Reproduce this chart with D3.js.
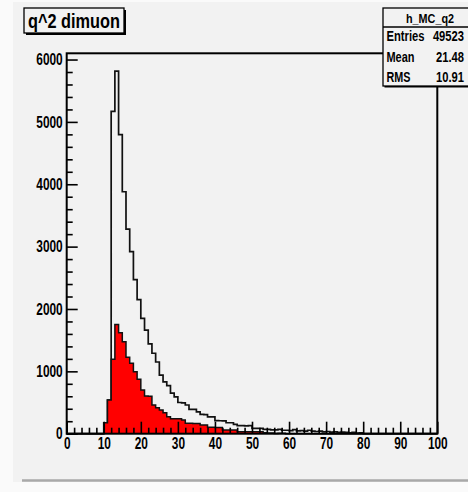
<!DOCTYPE html>
<html><head><meta charset="utf-8">
<script src="https://cdn.jsdelivr.net/npm/d3@7"></script>
<style>
html,body{margin:0;padding:0;background:#fafafa;}
svg{display:block;}
text{font-family:"Liberation Sans",Arial,Helvetica,sans-serif;font-weight:bold;fill:#000;}
</style></head>
<body>
<svg id="c" width="468" height="492"></svg>
<script>
// ---- data (bin lower edges 0..99, width 1) ----
const binEdges = [0,1,2,3,4,5,6,7,8,9,10,11,12,13,14,15,16,17,18,19,20,21,22,23,24,25,26,27,28,29,30,31,32,33,34,35,36,37,38,39,40,41,42,43,44,45,46,47,48,49,50,51,52,53,54,55,56,57,58,59,60,61,62,63,64,65,66,67,68,69,70,71,72,73,74,75,76,77,78,79,80,81,82,83,84,85,86,87,88,89,90,91,92,93,94,95,96,97,98,99];
const totalCounts = [0,0,0,0,0,0,0,0,0,0,
  176,540,5170,5815,4795,3880,3280,2920,2470,2150,
  1850,1660,1440,1290,1150,940,830,770,650,590,
  500,495,460,390,390,350,310,305,270,270,
  210,208,205,176,176,150,128,128,125,128,
  87,87,85,70,70,60,60,70,55,55,
  50,65,45,50,40,55,40,35,40,30,
  35,25,30,20,25,20,15,20,10,15,
  0,0,0,0,0,0,0,0,0,0,
  0,0,0,0,0,0,0,0,0,0];
const redCounts = [0,0,0,0,0,0,0,0,0,0,
  176,540,1192,1753,1619,1474,1224,1128,994,872,
  700,604,600,460,417,380,337,272,240,240,
  238,220,167,167,165,165,140,140,103,103,
  100,100,59,59,59,58,32,32,32,30,
  30,30,30,15,12,10,4,8,6,0,
  0,0,0,0,0,0,0,0,0,0,
  0,0,0,0,0,0,0,0,0,0,
  0,0,0,0,0,0,0,0,0,0,
  0,0,0,0,0,0,0,0,0,0];
const xMajorTicks = [0,10,20,30,40,50,60,70,80,90,100];
const yMajorTicks = [0,1000,2000,3000,4000,5000,6000];
const titleText = "q^2 dimuon";
const statsName = "h_MC_q2";
const statsLabels = ["Entries","Mean","RMS"];
const statsValues = ["49523","21.48","10.91"];

const svg = d3.select("#c");
const BG = "#f2f2f2";

// canvas / pad
svg.append("rect").attr("x",13).attr("y",2).attr("width",455).attr("height",480).attr("fill",BG);
svg.append("line").attr("x1",22).attr("x2",468).attr("y1",480.5).attr("y2",480.5)
  .attr("stroke","#a9a9a9").attr("stroke-width",2.5);

const L=66.7, R=437.3, T=53.3, B=433.7;
const x = d3.scaleLinear().domain([0,100]).range([L,R]);
const y = d3.scaleLinear().domain([0,6100]).range([B,T]);

const bins = binEdges.map((e,i)=>({x0:e,x1:e+1,t:totalCounts[i],r:redCounts[i]}));
function stepPts(key){
  const pts=[];
  bins.forEach(b=>{pts.push([b.x0,b[key]]);pts.push([b.x1,b[key]]);});
  return pts;
}
const line = d3.line().x(d=>x(d[0])).y(d=>y(d[1]));
const area = d3.area().x(d=>x(d[0])).y0(y(0)).y1(d=>y(d[1]));

// total histogram outline
svg.append("path").attr("d",line(stepPts("t"))).attr("fill","none")
  .attr("stroke","#111").attr("stroke-width",1.7).attr("stroke-linejoin","miter");
// red histogram
svg.append("path").attr("d",area(stepPts("r"))).attr("fill","#ff0000").attr("stroke","none");
svg.append("path").attr("d",line(stepPts("r"))).attr("fill","none")
  .attr("stroke","#111").attr("stroke-width",1.5);

// axes
const yMinor = d3.range(0,6001,200).filter(v=>v%1000!==0);
const xMinor = d3.range(0,101,2).filter(v=>v%10!==0);

const gy = svg.append("g").attr("transform",`translate(${L},0)`);
gy.call(d3.axisLeft(y).tickValues(yMajorTicks).tickSize(-11).tickPadding(4).tickFormat(d3.format("d")));
const gym = svg.append("g").attr("transform",`translate(${L},0)`);
gym.call(d3.axisLeft(y).tickValues(yMinor).tickSize(-6).tickFormat(""));

const gx = svg.append("g").attr("transform",`translate(0,${B})`);
gx.call(d3.axisBottom(x).tickValues(xMajorTicks).tickSize(-12).tickPadding(4).tickFormat(d3.format("d")));
const gxm = svg.append("g").attr("transform",`translate(0,${B})`);
gxm.call(d3.axisBottom(x).tickValues(xMinor).tickSize(-6).tickFormat(""));

[gy,gym,gx,gxm].forEach(g=>{
  g.select(".domain").remove();
  g.selectAll("line").attr("stroke","#000").attr("stroke-width",1.6);
  g.selectAll("text").attr("font-size",16).attr("font-family",'"Liberation Sans",Arial,sans-serif')
    .attr("font-weight","bold").attr("fill","#000")
    .attr("textLength",function(){return this.textContent.length*6.6;})
    .attr("lengthAdjust","spacingAndGlyphs");
});
gx.selectAll("text").attr("dy","0.72em");

// frame
svg.append("rect").attr("x",L).attr("y",T).attr("width",R-L).attr("height",B-T)
  .attr("fill","none").attr("stroke","#000").attr("stroke-width",2);

// title box
svg.append("rect").attr("x",26).attr("y",10).attr("width",100).attr("height",25).attr("fill","#000");
svg.append("rect").attr("x",24).attr("y",8).attr("width",100).attr("height",25)
  .attr("fill",BG).attr("stroke","#000").attr("stroke-width",1.3);
svg.append("text").attr("x",74).attr("y",28).attr("text-anchor","middle").attr("font-size",21)
  .attr("textLength",92).attr("lengthAdjust","spacingAndGlyphs").text(titleText);

// stats box
const SX=383, SY=8, SW=95, SH=78;
svg.append("rect").attr("x",SX+1.5).attr("y",SY+1.5).attr("width",SW).attr("height",SH).attr("fill","#000");
svg.append("rect").attr("x",SX).attr("y",SY).attr("width",SW).attr("height",SH)
  .attr("fill",BG).attr("stroke","#000").attr("stroke-width",1.3);
svg.append("line").attr("x1",SX).attr("x2",SX+SW).attr("y1",27).attr("y2",27)
  .attr("stroke","#000").attr("stroke-width",1.3);
svg.append("text").attr("x",430).attr("y",22.5).attr("text-anchor","middle").attr("font-size",13)
  .attr("textLength",48).attr("lengthAdjust","spacingAndGlyphs").text(statsName);
const rowY=[41,61.5,81.5];
const labW=[38,28,24];
statsLabels.forEach((s,i)=>{
  svg.append("text").attr("x",386.5).attr("y",rowY[i]).attr("font-size",14)
    .attr("textLength",labW[i]).attr("lengthAdjust","spacingAndGlyphs").text(s);
  svg.append("g").attr("transform",`translate(464,${rowY[i]}) scale(0.8,1)`)
    .append("text").attr("x",0).attr("y",0).attr("text-anchor","end").attr("font-size",14)
    .text(statsValues[i]);
});
</script>
</body></html>
